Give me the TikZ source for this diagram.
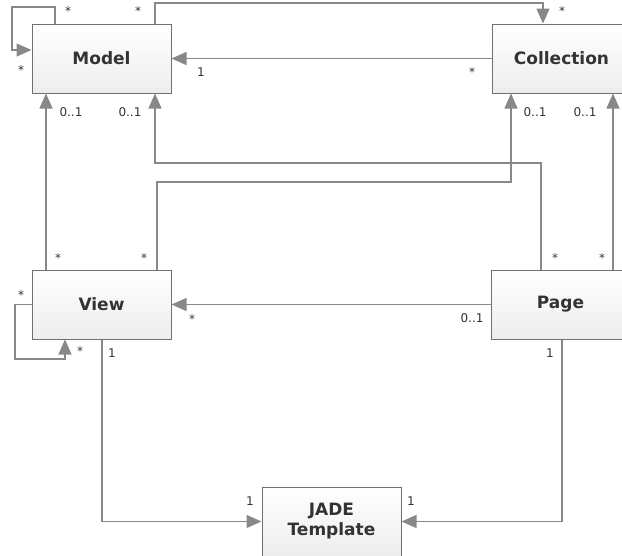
\documentclass[tikz,border=0pt]{standalone}
\usepackage{fontspec}
\setmainfont{DejaVu Sans}
\usetikzlibrary{arrows.meta}
\definecolor{linegray}{HTML}{888888}
\definecolor{boxgray}{HTML}{707070}
\definecolor{textgray}{HTML}{333333}
\begin{document}
\begin{tikzpicture}[
    x=1pt, y=-1pt,
    every node/.style={align=center},
    block/.style={rectangle, draw=boxgray, line width=1pt, top color=white, bottom color=gray!14, minimum width=139pt, minimum height=69pt, inner sep=0pt, text=textgray, font=\fontsize{17}{20}\selectfont\bfseries},
    mult/.style={inner sep=0pt, text=textgray, font=\fontsize{12}{14}\selectfont},
    arrow/.style={-{Triangle[length=15pt, width=13pt]}, line width=1.3pt, draw=linegray, color=linegray}
]
    \useasboundingbox (0,0) rectangle (622,555);
    \clip (0,0) rectangle (622,555);

    % Nodes - classes
    \node[block] (model) at (101.5,58.5) {Model};
    \node[block, right of=model, node distance=460pt] (collection) {Collection};
    \node[block, below of=model, node distance=246pt] (view) {View};
    \node[block, right of=view, node distance=459pt] (page) {Page};
    \node[block] (jade) at (331.5,521.5) {JADE\\Template};

    % Arrows - associations
    \draw[arrow] (model.north -| 55,0) |- (12,7) |- (model.west |- 0,50);
    \draw[arrow] (model.north -| 155,0) |- (543,3) -- (collection.north -| 543,0);
    \draw[arrow] (collection.west) -- (model.east);
    \draw[arrow] (view.north -| 46,0) -- (model.south -| 46,0);
    \draw[arrow] (view.north -| 157,0) |- (511,182) -- (collection.south -| 511,0);
    \draw[arrow] (page.north -| 541,0) |- (155,163) -- (model.south -| 155,0);
    \draw[arrow] (page.north -| 613,0) -- (collection.south -| 613,0);
    \draw[arrow] (page.west) -- (view.east);
    \draw[arrow] (view.west) -| (15,359) -| (view.south -| 65,0);
    \draw[arrow] (view.south -| 102,0) |- (jade.west);
    \draw[arrow] (page.south -| 562,0) |- (jade.east);

    % Multiplicities
    \node[mult] (m1) at (68,11) {*};
    \node[mult] (m2) at (21,70) {*};
    \node[mult] (m3) at (138,11) {*};
    \node[mult] (m4) at (562,11) {*};
    \node[mult] (m5) at (201,72) {1};
    \node[mult] (m6) at (472,72) {*};
    \node[mult] (m7) at (71,112) {0..1};
    \node[mult] (m8) at (130,112) {0..1};
    \node[mult] (m9) at (535,112) {0..1};
    \node[mult] (m10) at (585,112) {0..1};
    \node[mult] (m11) at (58,258) {*};
    \node[mult] (m12) at (144,258) {*};
    \node[mult] (m13) at (555,258) {*};
    \node[mult] (m14) at (602,258) {*};
    \node[mult] (m15) at (21,295) {*};
    \node[mult] (m16) at (80,351) {*};
    \node[mult] (m17) at (192,319) {*};
    \node[mult] (m18) at (472,318) {0..1};
    \node[mult] (m19) at (112,353) {1};
    \node[mult] (m20) at (550,353) {1};
    \node[mult] (m21) at (250,501) {1};
    \node[mult] (m22) at (411,501) {1};

\end{tikzpicture}
\end{document}
